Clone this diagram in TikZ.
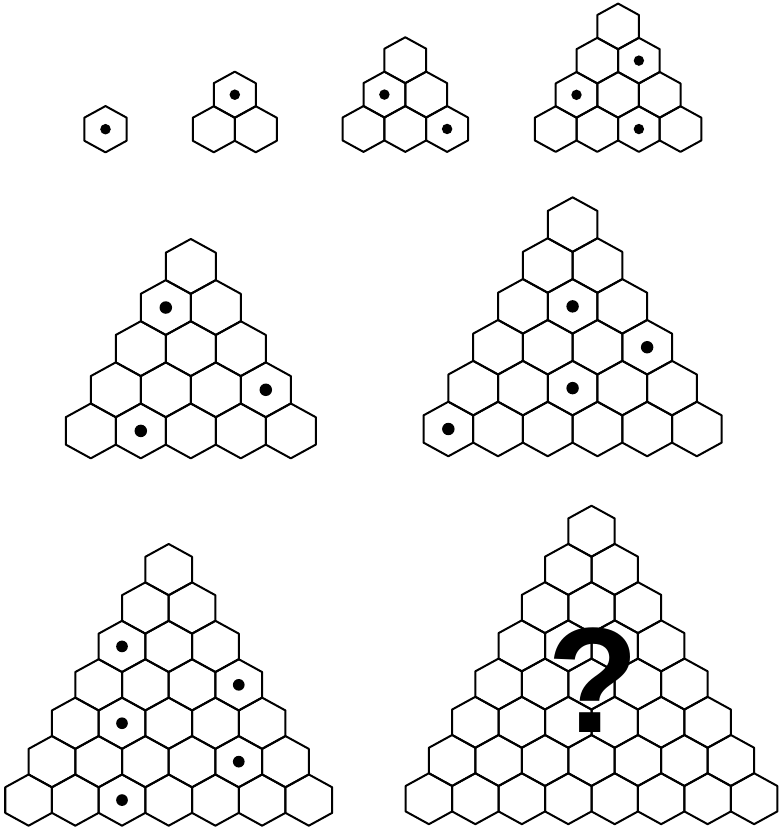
\documentclass[tikz,border=0pt]{standalone}
\usepackage{fontspec}
\newfontfamily\qfont{Liberation Sans}
\tikzset{
  hexline/.style={draw=black, line width=2pt, line join=round},
  hexdot/.style={fill=black},
  qmark/.style={inner sep=0pt, anchor=base, font=\qfont\bfseries\fontsize{150}{150}\selectfont}
}
% #1 cx, #2 cy (top hex centre), #3 half-width a, #4 rows
\newcommand{\hexTriangle}[4]{%
  \pgfmathtruncatemacro{\hxN}{#4-1}%
  \foreach \r in {0,...,\hxN}{%
    \foreach \k in {0,...,\r}{%
      \pgfmathsetmacro{\hx}{#1+(2*\k-\r)*#3}%
      \pgfmathsetmacro{\hy}{#2+\r*1.645*#3}%
      \pgfmathsetmacro{\hh}{1.097*#3}%
      \pgfmathsetmacro{\hv}{0.548*#3}%
      \draw[hexline] (\hx,\hy-\hh) -- (\hx+#3,\hy-\hv) -- (\hx+#3,\hy+\hv)
        -- (\hx,\hy+\hh) -- (\hx-#3,\hy+\hv) -- (\hx-#3,\hy-\hv) -- cycle;
    }%
  }%
}
% #1 cx, #2 cy, #3 a, #4 row, #5 position
\newcommand{\hexDot}[5]{%
  \fill[hexdot] ({#1+(2*#5-#4)*#3},{#2+#4*1.645*#3}) circle ({0.25*#3});
}
\begin{document}
\begin{tikzpicture}[x=1pt,y=-1pt]
\useasboundingbox (0,0) rectangle (781,828);
% top row
\hexTriangle{105.5}{129.2}{21.1}{1}
\hexDot{105.5}{129.2}{21.1}{0}{0}
\hexTriangle{234.8}{94.7}{21}{2}
\hexDot{234.8}{94.7}{21}{0}{0}
\hexTriangle{405.3}{60.2}{20.9}{3}
\hexDot{405.3}{60.2}{20.9}{1}{0}
\hexDot{405.3}{60.2}{20.9}{2}{2}
\hexTriangle{618.1}{26.4}{20.8}{4}
\hexDot{618.1}{26.4}{20.8}{1}{1}
\hexDot{618.1}{26.4}{20.8}{2}{0}
\hexDot{618.1}{26.4}{20.8}{3}{2}
% middle row
\hexTriangle{190.8}{266.4}{25}{5}
\hexDot{190.8}{266.4}{25}{1}{0}
\hexDot{190.8}{266.4}{25}{3}{3}
\hexDot{190.8}{266.4}{25}{4}{1}
\hexTriangle{572.6}{224.6}{24.85}{6}
\hexDot{572.6}{224.6}{24.85}{2}{1}
\hexDot{572.6}{224.6}{24.85}{3}{3}
\hexDot{572.6}{224.6}{24.85}{4}{2}
\hexDot{572.6}{224.6}{24.85}{5}{0}
% bottom row
\hexTriangle{168.7}{569.6}{23.35}{7}
\hexDot{168.7}{569.6}{23.35}{2}{0}
\hexDot{168.7}{569.6}{23.35}{3}{3}
\hexDot{168.7}{569.6}{23.35}{4}{1}
\hexDot{168.7}{569.6}{23.35}{5}{4}
\hexDot{168.7}{569.6}{23.35}{6}{2}
\hexTriangle{591.5}{531.2}{23.23}{8}
\node[qmark] (q) at (593,732) {?};
\end{tikzpicture}
\end{document}
